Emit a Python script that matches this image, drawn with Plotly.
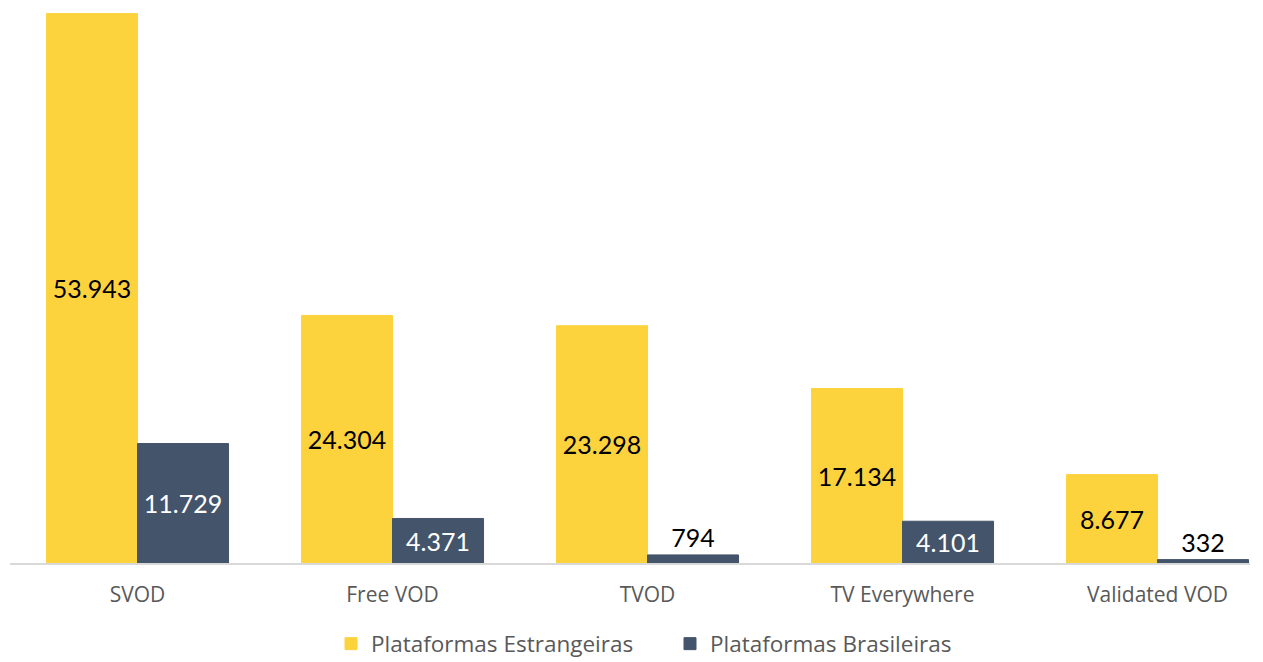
import plotly.graph_objects as go

categories = ["SVOD", "Free VOD", "TVOD", "TV Everywhere", "Validated VOD"]
estrangeiras = [53943, 24304, 23298, 17134, 8677]
brasileiras = [11729, 4371, 794, 4101, 332]
labels_estr = ["53.943", "24.304", "23.298", "17.134", "8.677"]
labels_bras = ["11.729", "4.371", "794", "4.101", "332"]
series_names = ["Plataformas Estrangeiras", "Plataformas Brasileiras"]

YELLOW = "#FCD33D"
DARK = "#44546A"

bras_pos = ["inside" if v > 2000 else "outside" for v in brasileiras]
bras_col = ["white" if p == "inside" else "black" for p in bras_pos]

fig = go.Figure()
fig.add_trace(go.Bar(
    x=categories, y=estrangeiras, name=series_names[0],
    marker=dict(color=YELLOW, line=dict(width=1, color=YELLOW)),
    text=labels_estr, textposition="inside", insidetextanchor="middle",
    textfont=dict(family="Lato, Carlito, sans-serif", size=25, color="black"),
    constraintext="none", hoverinfo="skip",
))
fig.add_trace(go.Bar(
    x=categories, y=brasileiras, name=series_names[1],
    marker=dict(color=DARK, line=dict(width=1, color=DARK)),
    text=labels_bras, textposition=bras_pos, insidetextanchor="middle",
    textfont=dict(family="Lato, Carlito, sans-serif", size=25, color=bras_col),
    constraintext="none", cliponaxis=False, hoverinfo="skip",
))

W, H = 1255, 654
fig.update_layout(
    width=W, height=H,
    margin=dict(l=2, r=13, t=5, b=99, autoexpand=False),
    paper_bgcolor="white", plot_bgcolor="white",
    barmode="group", bargap=0.286, bargroupgap=0,
    showlegend=True,
    legend=dict(orientation="h", xref="container", yref="container",
                x=(331 - 8) / W, xanchor="left", y=(H - 636) / H, yanchor="middle",
                font=dict(family="Open Sans, sans-serif", size=22.5, color="#595959"),
                entrywidth=294, entrywidthmode="pixels",
                traceorder="normal"),
    xaxis=dict(type="category", range=[-0.5, -0.5 + 1240 / 255],
               showline=True, linecolor="#D9D9D9", linewidth=2,
               ticks="", showgrid=False, ticklabelstandoff=12,
               tickfont=dict(family="Open Sans, sans-serif", size=21, color="#595959")),
    yaxis=dict(range=[0, 54000], visible=False, showgrid=False, zeroline=False),
)

fig.write_html("out.html")
